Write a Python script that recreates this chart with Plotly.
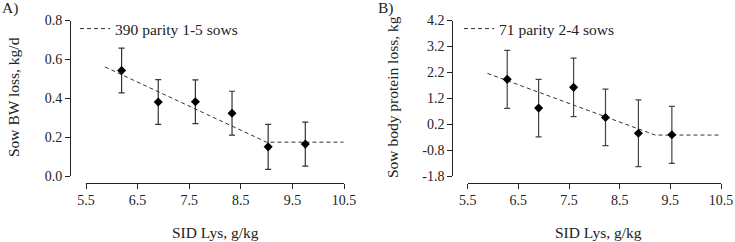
import plotly.graph_objects as go

W, H = 735, 242

# ---- data ----
lys_a = [6.19, 6.90, 7.62, 8.33, 9.03, 9.75]
bw_loss = [0.543, 0.381, 0.382, 0.323, 0.150, 0.164]
bw_se = [0.115, 0.115, 0.113, 0.113, 0.116, 0.113]
fit_a_x = [5.87, 9.00, 10.49]
fit_a_y = [0.561, 0.174, 0.174]

lys_b = [6.28, 6.90, 7.59, 8.22, 8.87, 9.53]
prot_loss = [1.93, 0.82, 1.62, 0.46, -0.15, -0.21]
prot_se = [1.12, 1.11, 1.13, 1.09, 1.29, 1.10]
fit_b_x = [5.89, 9.20, 10.5]
fit_b_y = [2.16, -0.22, -0.22]

x_ticks = [5.5, 6.5, 7.5, 8.5, 9.5, 10.5]
x_labels = ["5.5", "6.5", "7.5", "8.5", "9.5", "10.5"]
ya_ticks = [0.0, 0.2, 0.4, 0.6, 0.8]
ya_labels = ["0.0", "0.2", "0.4", "0.6", "0.8"]
yb_ticks = [-1.8, -0.8, 0.2, 1.2, 2.2, 3.2, 4.2]
yb_labels = ["-1.8", "-0.8", "0.2", "1.2", "2.2", "3.2", "4.2"]

FONT = "Liberation Serif, Times New Roman, serif"
FS = 15.5
FT = 14
INK = "#222"


def px(x):
    return x / W


def py(y):
    return 1 - y / H


fig = go.Figure()

# Panel A
fig.add_trace(go.Scatter(x=fit_a_x, y=fit_a_y, mode="lines", xaxis="x", yaxis="y",
                         line=dict(color="#333", width=1, dash="4px,3px"),
                         name="390 parity 1-5 sows", legend="legend", showlegend=True))
fig.add_trace(go.Scatter(x=lys_a, y=bw_loss, mode="markers", xaxis="x", yaxis="y",
                         marker=dict(symbol="diamond", size=7, color="black"),
                         error_y=dict(type="data", array=bw_se, color="#333", thickness=1.2, width=3),
                         showlegend=False, cliponaxis=False))

# Panel B
fig.add_trace(go.Scatter(x=fit_b_x, y=fit_b_y, mode="lines", xaxis="x2", yaxis="y2",
                         line=dict(color="#333", width=1, dash="4px,3px"),
                         name="71 parity 2-4 sows", legend="legend2", showlegend=True))
fig.add_trace(go.Scatter(x=lys_b, y=prot_loss, mode="markers", xaxis="x2", yaxis="y2",
                         marker=dict(symbol="diamond", size=7, color="black"),
                         error_y=dict(type="data", array=prot_se, color="#444", thickness=1.2, width=3),
                         showlegend=False, cliponaxis=False))

axis_common = dict(showgrid=False, zeroline=False, showline=True, linecolor=INK, linewidth=1,
                   ticks="outside", ticklen=5, tickcolor=INK, tickwidth=1, automargin=False,
                   tickfont=dict(family=FONT, size=FT, color=INK))

top, bot = 20.5, 176
xaxis_y = 182.5

fig.update_layout(
    width=W, height=H, margin=dict(l=0, r=0, t=0, b=0, autoexpand=False),
    paper_bgcolor="white", plot_bgcolor="white",
    font=dict(family=FONT, size=FS, color=INK),
    xaxis=dict(domain=[px(86), px(344)], range=[5.5, 10.5], tickvals=x_ticks, ticktext=x_labels,
               anchor="free", position=py(xaxis_y), **axis_common),
    yaxis=dict(domain=[py(bot), py(top)], range=[0.0, 0.8], tickvals=ya_ticks, ticktext=ya_labels,
               anchor="free", position=px(70), **axis_common),
    xaxis2=dict(domain=[px(467.7), px(721)], range=[5.5, 10.5], tickvals=x_ticks, ticktext=x_labels,
                anchor="free", position=py(xaxis_y), **axis_common),
    yaxis2=dict(domain=[py(bot), py(top)], range=[-1.8, 4.2], tickvals=yb_ticks, ticktext=yb_labels,
                anchor="free", position=px(452.3), **axis_common),
    legend=dict(x=px(75), y=py(29), xanchor="left", yanchor="middle", bgcolor="rgba(0,0,0,0)",
                font=dict(family=FONT, size=FS, color=INK), itemwidth=30, tracegroupgap=0),
    legend2=dict(x=px(459), y=py(29), xanchor="left", yanchor="middle", bgcolor="rgba(0,0,0,0)",
                 font=dict(family=FONT, size=FS, color=INK), itemwidth=30, tracegroupgap=0),
    showlegend=True,
)

ann = [
    dict(text="A)", x=px(0), y=py(8), xanchor="left", yanchor="middle"),
    dict(text="B)", x=px(376), y=py(8), xanchor="left", yanchor="middle"),
    dict(text="Sow BW loss, kg/d", x=px(13), y=py(97), textangle=-90, xanchor="center", yanchor="middle"),
    dict(text="Sow body protein loss, kg", x=px(392), y=py(97), textangle=-90, xanchor="center", yanchor="middle"),
    dict(text="SID Lys, g/kg", x=px(215), y=py(232), xanchor="center", yanchor="middle"),
    dict(text="SID Lys, g/kg", x=px(598), y=py(232), xanchor="center", yanchor="middle"),
]
for a in ann:
    fig.add_annotation(xref="paper", yref="paper", showarrow=False,
                       font=dict(family=FONT, size=FS, color=INK), **a)

fig.write_html("out.html", config={"displayModeBar": False},
               post_script="document.body.style.margin='0';document.body.style.padding='0';"
                           "document.body.style.overflow='hidden';")
